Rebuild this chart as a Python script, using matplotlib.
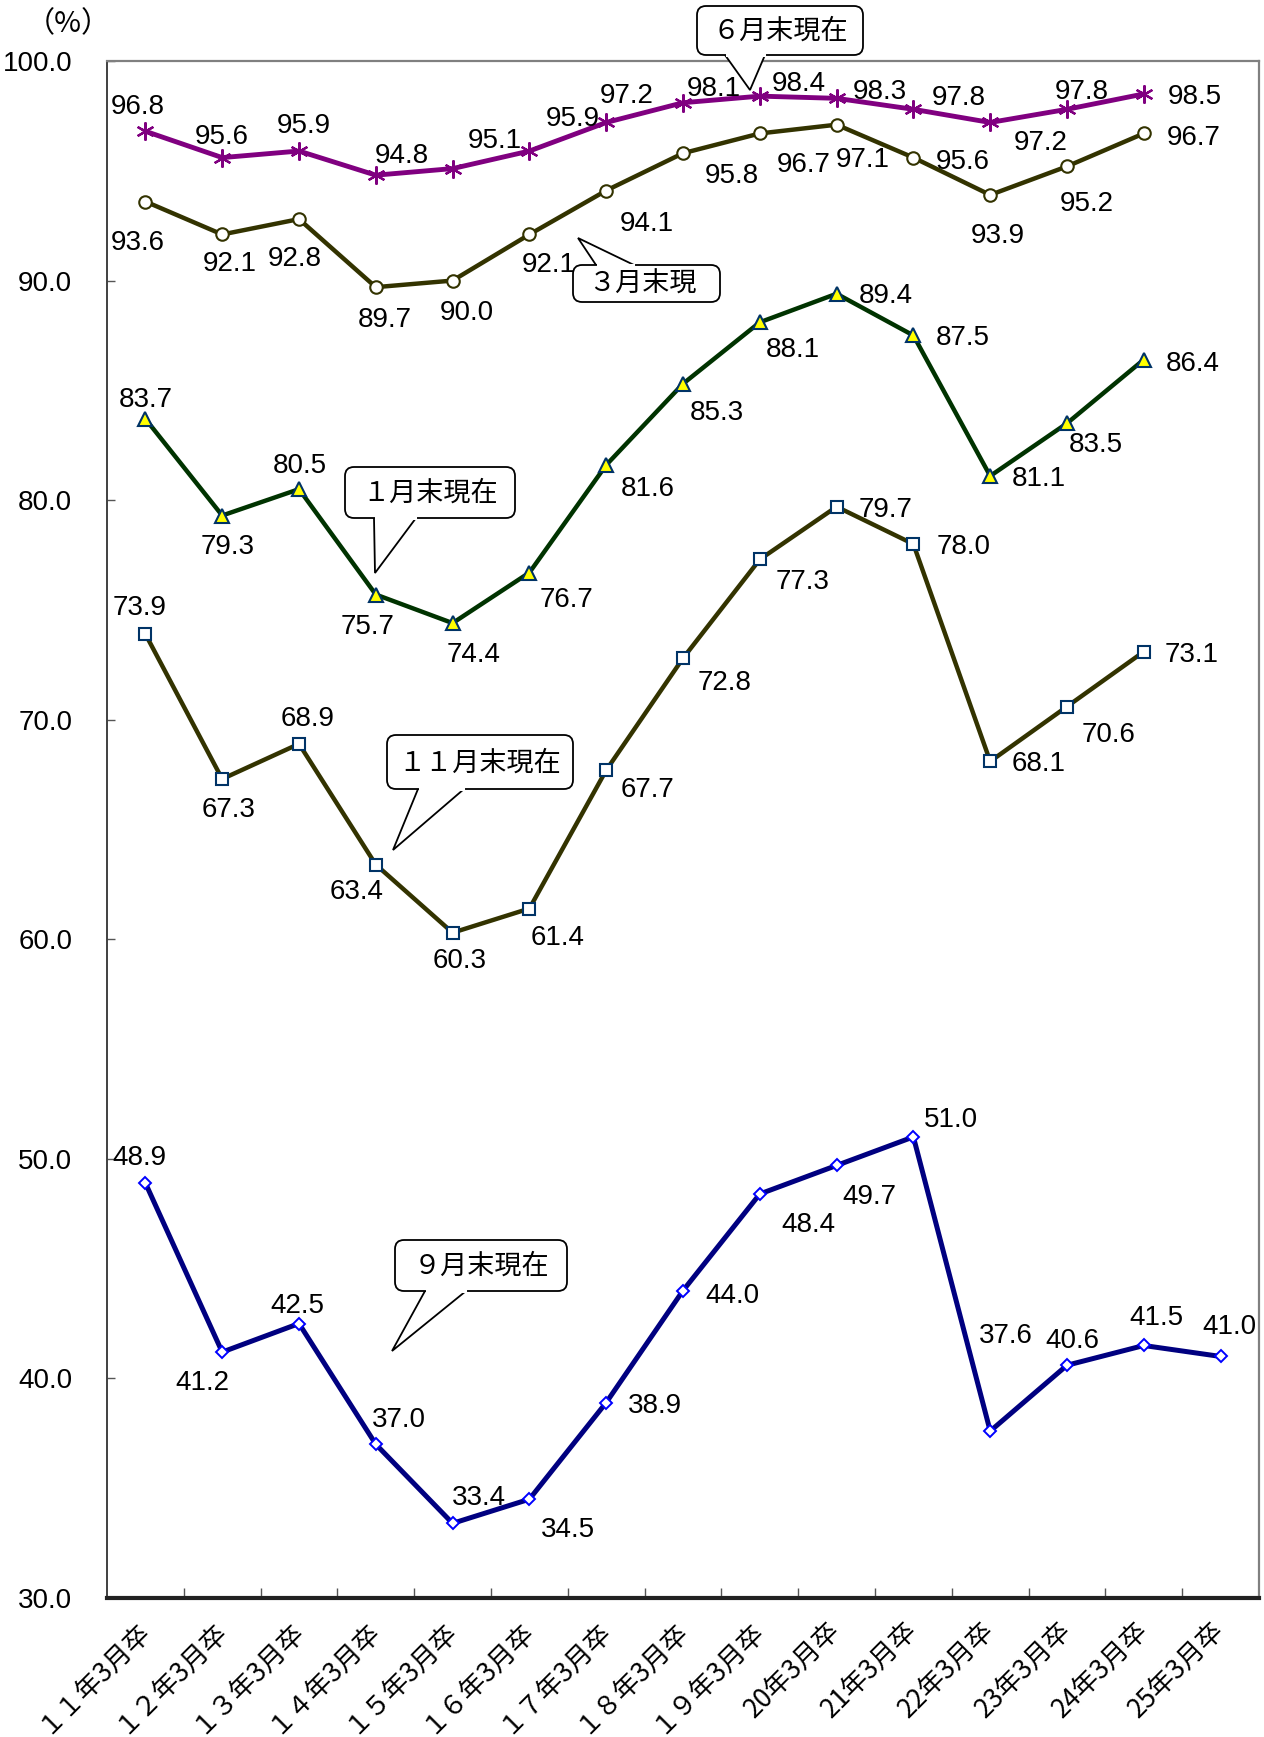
import numpy as np
import matplotlib
matplotlib.use('Agg')
import matplotlib.pyplot as plt
import matplotlib.transforms as mtransforms
from matplotlib import font_manager
from matplotlib.patches import FancyBboxPatch, Polygon

W, H = 1264, 1737

# ---- data -------------------------------------------------------------
categories = ['１１年3月卒', '１２年3月卒', '１３年3月卒', '１４年3月卒', '１５年3月卒',
              '１６年3月卒', '１７年3月卒', '１８年3月卒', '１９年3月卒', '20年3月卒',
              '21年3月卒', '22年3月卒', '23年3月卒', '24年3月卒', '25年3月卒']

jun = [96.8, 95.6, 95.9, 94.8, 95.1, 95.9, 97.2, 98.1, 98.4, 98.3, 97.8, 97.2, 97.8, 98.5]
mar = [93.6, 92.1, 92.8, 89.7, 90.0, 92.1, 94.1, 95.8, 96.7, 97.1, 95.6, 93.9, 95.2, 96.7]
jan = [83.7, 79.3, 80.5, 75.7, 74.4, 76.7, 81.6, 85.3, 88.1, 89.4, 87.5, 81.1, 83.5, 86.4]
nov = [73.9, 67.3, 68.9, 63.4, 60.3, 61.4, 67.7, 72.8, 77.3, 79.7, 78.0, 68.1, 70.6, 73.1]
sep = [48.9, 41.2, 42.5, 37.0, 33.4, 34.5, 38.9, 44.0, 48.4, 49.7, 51.0, 37.6, 40.6, 41.5, 41.0]

# label offsets in pixels from each point (dx right, dy down)
jun_off = [(-8, -27), (0, -24), (5, -28), (26, -22), (42, -31), (43, -35), (20, -29),
           (31, -17), (39, -15), (43, -9), (45, -14), (50, 18), (15, -20), (51, 0)]
mar_off = [(-8, 38), (8, 27), (-4, 37), (9, 30), (14, 29), (19, 28), (41, 30),
           (49, 20), (44, 29), (26, 32), (49, 1), (8, 38), (20, 35), (50, 2)]
jan_off = [(0, -22), (5, 28), (1, -26), (-8, 29), (21, 29), (37, 24), (42, 21),
           (34, 26), (33, 25), (49, -1), (49, 0), (49, 0), (29, 19), (49, 1)]
nov_off = [(-6, -29), (6, 28), (9, -28), (-19, 24), (7, 25), (28, 26), (41, 17),
           (42, 22), (43, 20), (49, 0), (50, 0), (48, 0), (42, 25), (48, 0)]
sep_off = [(-6, -28), (-20, 28), (-2, -21), (23, -27), (26, -28), (39, 28), (49, 0),
           (49, 2), (49, 28), (33, 29), (38, -20), (16, -98), (5, -27), (13, -30), (9, -32)]

# ---- fonts ------------------------------------------------------------
installed = {f.name for f in font_manager.fontManager.ttflist}
NUM_FONT = 'Liberation Sans Narrow' if 'Liberation Sans Narrow' in installed else 'Liberation Sans'
NUM_SIZE = 22 if NUM_FONT == 'Liberation Sans Narrow' else 20
JP_FONT = ['Noto Sans CJK JP', 'DejaVu Sans']

fig = plt.figure(figsize=(W / 100, H / 100), dpi=100)
ax = fig.add_axes([107 / W, 1 - 1598 / H, (1259 - 107) / W, (1598 - 61) / H])

x14 = np.arange(len(jun))
x15 = np.arange(len(sep))

ax.plot(x14, jun, color='#800080', lw=3.5, marker=(6, 2, 0), ms=13, mec='#800080', mew=1.6, zorder=5)
ax.plot(x14, mar, color='#333300', lw=3.2, marker='o', ms=9, mfc='white', mec='#333300', mew=1.5, zorder=5)
ax.plot(x14, jan, color='#003300', lw=3.2, marker='^', ms=10, mfc='#FFFF00', mec='#003366', mew=1.5, zorder=5)
ax.plot(x14, nov, color='#333300', lw=3.2, marker='s', ms=9, mfc='white', mec='#003366', mew=1.5, zorder=5)
ax.plot(x15, sep, color='#000080', lw=3.6, marker='D', ms=6.5, mfc='white', mec='#0000FF', mew=1.4, zorder=5)


def label_series(xs, vals, offs):
    for x, v, (dx, dy) in zip(xs, vals, offs):
        ax.annotate(f'{v:.1f}', (x, v), xytext=(dx, -dy - 3), textcoords='offset pixels',
                    ha='center', va='center', fontsize=NUM_SIZE, family=NUM_FONT, zorder=6)


label_series(x14, jun, jun_off)
label_series(x14, mar, mar_off)
label_series(x14, jan, jan_off)
label_series(x14, nov, nov_off)
label_series(x15, sep, sep_off)

# ---- axes -------------------------------------------------------------
ax.set_xlim(-0.5, 14.5)
ax.set_ylim(30, 100)
yt = np.arange(30, 101, 10)
ax.set_yticks(yt)
ax.set_yticklabels([f'{v:.1f}' for v in yt], family=NUM_FONT, fontsize=NUM_SIZE)
ax.tick_params(axis='y', direction='in', length=6, width=1, color='#555555', pad=25)

ax.set_xticks(x15)
ax.set_xticklabels(categories, rotation=45, ha='right', va='center', rotation_mode='anchor',
                   family=JP_FONT, fontsize=19)
ax.tick_params(axis='x', which='major', length=0, pad=20)
ax.set_xticks(np.arange(0.5, 14, 1), minor=True)
ax.tick_params(axis='x', which='minor', direction='in', length=7, width=1, color='#555555')

for side in ['top', 'right']:
    ax.spines[side].set_color('#808080')
    ax.spines[side].set_linewidth(1.6)
ax.spines['left'].set_color('#404040')
ax.spines['left'].set_linewidth(1.4)
ax.spines['bottom'].set_color('#222222')
ax.spines['bottom'].set_linewidth(3)

fig.text(68 / W, 1 - 24 / H, '（%）', family=JP_FONT, fontsize=21, ha='center', va='center')

# ---- callouts (image pixel coordinates, y downward) ---------------------
px = mtransforms.Affine2D().scale(1 / W, -1 / H).translate(0, 1) + fig.transFigure


def callout(text, box, base, tip, tx=None, ha='center'):
    x0, y0, x1, y1 = box
    tail = Polygon([base[0], tip, base[1]], closed=True, fc='white', ec='black',
                   lw=1.3, transform=px, zorder=8)
    fig.add_artist(tail)
    rect = FancyBboxPatch((x0, y0), x1 - x0, y1 - y0, boxstyle='round,pad=0,rounding_size=9',
                          fc='white', ec='black', lw=1.3, transform=px, zorder=9)
    fig.add_artist(rect)
    # open the box edge where the tail joins
    (bx0, by), (bx1, _) = base
    fig.add_artist(plt.Line2D([bx0 + 1.5, bx1 - 1.5], [by, by], color='white', lw=2.2,
                              transform=px, zorder=10))
    if tx is None:
        tx = (x0 + x1) / 2
    fig.text(tx, (y0 + y1) / 2 + 1, text, transform=px, ha=ha, va='center',
             family=JP_FONT, fontsize=19.5, zorder=11)


callout('６月末現在', (697, 6, 863, 55), [(725, 55), (765, 55)], (750, 90))
callout('３月末現', (573, 265, 720, 302), [(596, 265), (634, 265)], (578, 238), tx=588, ha='left')
callout('１月末現在', (345, 467, 515, 518), [(374, 518), (416, 518)], (375, 573))
callout('１１月末現在', (387, 735, 573, 789), [(418, 789), (464, 789)], (393, 850))
callout('９月末現在', (395, 1240, 567, 1291), [(425, 1291), (466, 1291)], (392, 1351))

fig.savefig('out.png', dpi=100)
